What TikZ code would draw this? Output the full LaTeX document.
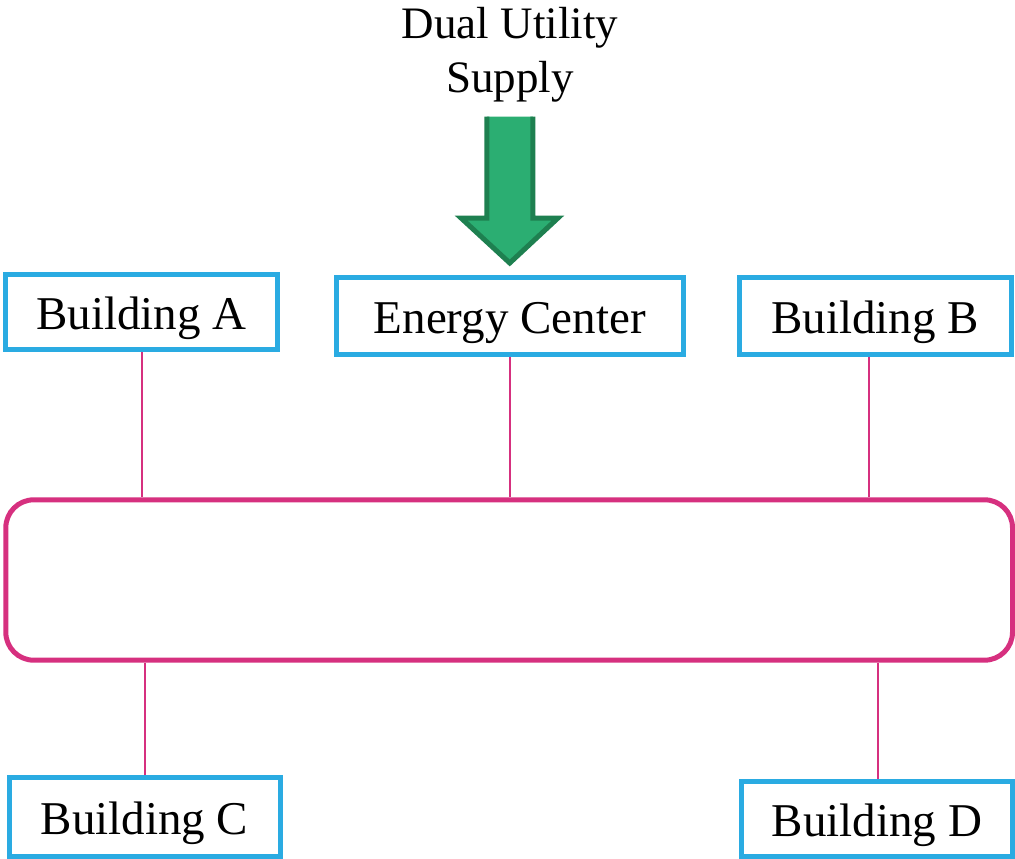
\documentclass[tikz,border=0pt]{standalone}
\usepackage{fontspec}
\setmainfont{Liberation Serif}
\usetikzlibrary{calc}
\definecolor{boxblue}{HTML}{2AABE2}
\definecolor{netpink}{HTML}{D6307F}
\definecolor{arrowgreen}{HTML}{2BAE72}
\definecolor{arrowdark}{HTML}{1E8050}
\tikzset{
  building/.style={draw=boxblue, line width=5pt, rectangle, minimum width=272pt,
    minimum height=76pt, inner sep=0pt, font=\fontsize{47}{56}\selectfont,
    text height=35pt, text depth=0pt},
  pipe/.style={draw=netpink, line width=2pt}
}

\begin{document}
\begin{tikzpicture}[x=1pt,y=-1pt]
    \useasboundingbox (0,0) rectangle (1015,859);

    % Supply label
    \node[font=\fontsize{45}{54.5}\selectfont, align=center, inner sep=0pt, anchor=north]
        (supply) at (510,7) {Dual Utility\\Supply};

    % Draw buildings and energy center
    \node[building, minimum height=75.5pt] (bA) at (141.5,311.75) {Building A};
    \node[building, minimum width=347.5pt, minimum height=77pt] (ec) at (509.75,315.5) {Energy Center};
    \node[building, minimum height=77pt] (bB) at (875,315.5) {Building B};
    \node[building, minimum width=271pt, minimum height=78.5pt] (bC) at (144.5,816.75) {Building C};
    \node[building, minimum width=271pt, minimum height=75pt] (bD) at (877,819) {Building D};

    % Draw the loop
    \node[draw=netpink, line width=5pt, rounded corners=28pt, minimum width=1006.7pt,
        minimum height=160.4pt, inner sep=0pt] (loop) at (509.15,580) {};

    % Draw connectors to the loop
    \draw[pipe] (bA.south) -- (bA.south |- loop.north);
    \draw[pipe] (ec.south) -- (ec.south |- loop.north);
    \draw[pipe] ([xshift=-6pt]bB.south) -- ([xshift=-6pt]bB.south |- loop.north);
    \draw[pipe] (loop.south -| bC.north) -- (bC.north);
    \draw[pipe] ([xshift=1pt]loop.south -| bD.north) -- ([xshift=1pt]bD.north);

    % Green supply arrow
    \fill[arrowgreen] (486.8,116.7) -- (486.8,218) -- (461,218) -- (509.75,263)
        -- (558,218) -- (532.8,218) -- (532.8,116.7) -- cycle;
    \draw[arrowdark, line width=5pt] (486.8,116.7) -- (486.8,218) -- (461,218)
        -- (509.75,263) -- (558,218) -- (532.8,218) -- (532.8,116.7);
\end{tikzpicture}
\end{document}
